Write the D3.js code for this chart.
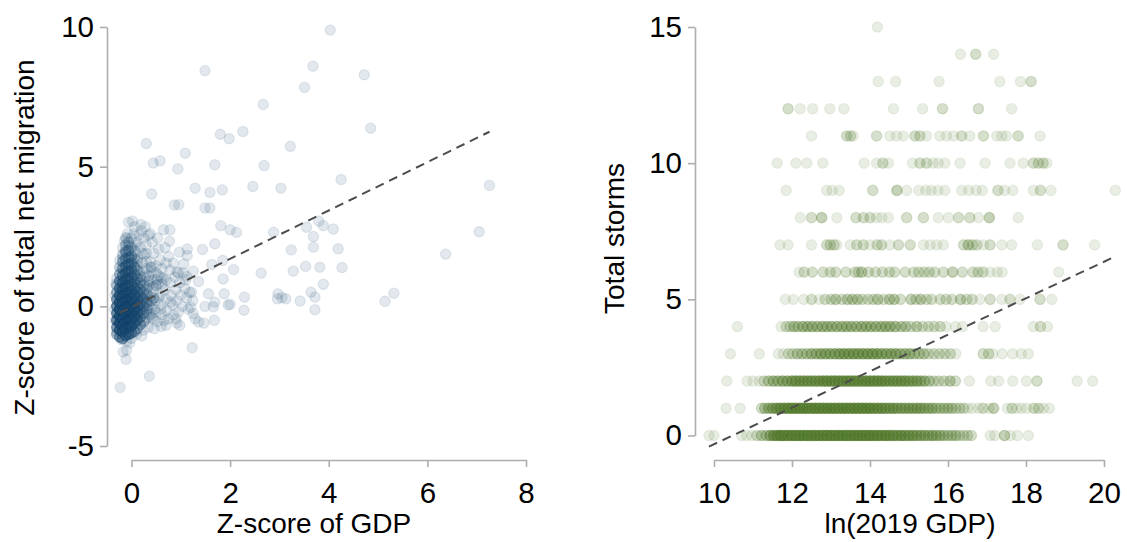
<!DOCTYPE html>
<html>
<head>
<meta charset="utf-8">
<script src="https://cdn.jsdelivr.net/npm/d3@7"></script>
<style>
  html, body { margin: 0; padding: 0; background: #ffffff; }
  svg text { font-family: "Liberation Sans", Arial, Helvetica, sans-serif; fill: #000; }
</style>
</head>
<body>
<svg id="chart" width="1127" height="542"></svg>
<script>
// ---------- Left panel: GDP z-score vs. net migration z-score ----------
const gdpTicks = [0, 2, 4, 6, 8];
const migrationTicks = [-5, 0, 5, 10];

// scattered observations [gdp z, migration z]
const migrationScatter = [
  [4.03, 9.89], [1.49, 8.44], [3.68, 8.6], [4.72, 8.29], [3.51, 7.84], [2.67, 7.23],
  [4.85, 6.38], [1.8, 6.16], [1.98, 6.0], [2.26, 6.26], [0.3, 5.83], [3.22, 5.73],
  [4.25, 4.54], [7.26, 4.33], [7.05, 2.67], [6.37, 1.87], [4.19, 2.06], [4.27, 1.39],
  [5.14, 0.18], [5.32, 0.47],
  [-0.06, 3.01], [0.02, 3.05], [0.19, 2.93], [0.65, 2.74], [0.78, 2.74], [0.38, 2.6],
  [0.53, 2.45], [0.77, 2.33], [1.44, 2.04], [1.69, 2.24], [1.13, 2.05], [0.97, 1.94],
  [1.13, 1.82], [1.06, 1.52], [0.75, 1.79], [1.85, 1.64], [1.25, 1.26], [1.63, 1.5],
  [2.07, 1.32], [1.86, 0.98], [2.63, 1.19], [1.36, 0.89], [1.12, 1.07], [0.92, 1.23],
  [1.22, 0.51], [1.24, 0.21], [1.56, 0.45], [1.69, 0.15], [1.66, -0.02], [2.0, 0.07],
  [1.96, 0.05], [2.29, 0.33], [2.28, -0.14], [1.88, 0.45], [1.49, 0.0], [1.2, -0.04],
  [1.25, -0.26], [1.29, -0.44], [1.36, -0.56], [1.47, -0.6], [1.68, -0.5], [0.92, -0.6],
  [0.98, -0.68], [0.7, -0.68], [0.21, -1.06], [-0.04, -1.31], [-0.1, -1.57], [-0.17, -1.63],
  [-0.11, -1.9], [1.23, -1.48], [0.36, -2.5], [-0.23, -2.9], [0.41, 4.02], [0.87, 3.63],
  [0.96, 3.64], [1.49, 3.52], [1.59, 3.52], [0.44, 5.13], [0.58, 5.21], [0.94, 4.92],
  [1.29, 4.23], [1.59, 4.08], [1.84, 4.17], [1.69, 5.07], [2.69, 5.04], [2.46, 4.29],
  [3.03, 4.23], [1.09, 5.48], [1.81, 2.89], [2.0, 2.74], [2.13, 2.65], [2.88, 2.65],
  [3.55, 2.83], [3.8, 3.05], [3.89, 2.89], [4.09, 2.77], [3.69, 2.5], [3.69, 2.12],
  [3.24, 2.02], [3.82, 1.4], [3.53, 1.43], [3.28, 1.26], [3.89, 0.79], [2.97, 0.45],
  [3.05, 0.31], [2.96, 0.27], [3.13, 0.27], [3.42, 0.19], [3.64, 0.51], [3.72, 0.33],
  [3.72, -0.12],
  // halo around the main group
  [-0.18, 1.7], [-0.12, 2.0], [-0.05, 2.2], [0.0, 2.45], [0.05, 2.6], [0.1, 2.3],
  [0.15, 2.55], [0.2, 2.7], [0.25, 2.45], [0.3, 2.2], [0.08, 1.95], [0.18, 2.1],
  [0.26, 1.85], [0.35, 2.55], [0.42, 2.3], [0.12, 1.7], [0.22, 1.55], [0.3, 1.35],
  [0.38, 1.6], [0.45, 1.9], [0.5, 1.45], [0.02, 1.65], [-0.14, 2.35], [-0.08, 2.6],
  [0.06, 2.85], [0.28, 2.85], [0.16, 1.25], [0.1, 1.45], [-0.02, 1.35], [0.35, 1.1],
  [0.42, 0.95], [0.5, 1.2], [0.58, 1.65], [0.62, 1.35], [0.55, 2.05], [0.68, 2.1],
  [0.2, 0.95], [0.28, 1.05],
  [0.25, 0.45], [0.3, 0.15], [0.3, -0.2], [0.28, -0.5], [0.35, 0.75], [0.38, 0.35],
  [0.4, -0.05], [0.42, -0.4], [0.45, 0.55], [0.48, 0.2], [0.5, -0.2], [0.52, -0.55],
  [0.55, 0.8], [0.58, 0.4], [0.6, 0.05], [0.62, -0.3], [0.65, 1.0], [0.68, 0.6],
  [0.7, 0.25], [0.72, -0.15], [0.75, -0.45], [0.78, 0.85], [0.8, 0.4], [0.83, 0.05],
  [0.85, -0.3], [0.88, 1.05], [0.9, 0.6], [0.92, 0.2], [0.95, -0.2], [0.98, 0.85],
  [1.0, 0.4], [1.03, 0.0], [1.05, 1.2], [1.08, 0.65], [1.12, 0.3], [1.15, -0.1],
  [0.24, -0.85], [0.34, -0.75], [0.46, -0.8], [0.6, -0.72], [0.4, 1.25], [0.78, 1.3],
  [0.85, 1.55], [0.95, 1.2], [0.7, 1.55], [0.62, 0.8], [0.52, 0.95], [0.3, 0.6],
  [0.36, 0.05], [0.22, 0.3], [0.18, 1.05], [1.1, 0.95], [1.18, 0.5], [0.9, -0.45],
  [0.66, -0.5],
  [-0.2, -1.2], [-0.1, -1.25], [0.0, -1.15], [0.1, -1.0], [-0.33, -0.5], [-0.34, -0.1],
  [-0.33, 0.4], [-0.32, 0.8], [-0.3, -0.9]
];

// main group, where many observations coincide: [gdp z, migration z, count]
const migrationCluster = [
  [-0.3, -1.0, 3], [-0.3, -0.75, 5], [-0.3, -0.5, 6], [-0.3, -0.25, 6], [-0.3, 0.0, 6],
  [-0.3, 0.25, 5], [-0.3, 0.5, 3], [-0.3, 0.75, 2], [-0.3, 1.0, 1],
  [-0.24, -1.1, 4], [-0.24, -0.85, 8], [-0.24, -0.6, 11], [-0.24, -0.35, 11], [-0.24, -0.1, 11],
  [-0.24, 0.15, 10], [-0.24, 0.4, 8], [-0.24, 0.65, 6], [-0.24, 0.9, 5], [-0.24, 1.15, 3],
  [-0.24, 1.4, 2], [-0.24, 1.65, 1],
  [-0.18, -1.15, 4], [-0.18, -0.9, 9], [-0.18, -0.65, 12], [-0.18, -0.4, 12], [-0.18, -0.15, 12],
  [-0.18, 0.1, 11], [-0.18, 0.35, 9], [-0.18, 0.6, 8], [-0.18, 0.85, 6], [-0.18, 1.1, 5],
  [-0.18, 1.35, 4], [-0.18, 1.6, 3], [-0.18, 1.85, 2], [-0.18, 2.1, 1],
  [-0.12, -1.05, 6], [-0.12, -0.8, 12], [-0.12, -0.55, 12], [-0.12, -0.3, 12], [-0.12, -0.05, 12],
  [-0.12, 0.2, 11], [-0.12, 0.45, 9], [-0.12, 0.7, 8], [-0.12, 0.95, 6], [-0.12, 1.2, 5],
  [-0.12, 1.45, 4], [-0.12, 1.7, 3], [-0.12, 1.95, 3], [-0.12, 2.2, 2], [-0.12, 2.45, 1],
  [-0.06, -1.0, 6], [-0.06, -0.75, 11], [-0.06, -0.5, 12], [-0.06, -0.25, 12], [-0.06, 0.0, 11],
  [-0.06, 0.25, 9], [-0.06, 0.5, 8], [-0.06, 0.75, 6], [-0.06, 1.0, 6], [-0.06, 1.25, 5],
  [-0.06, 1.5, 4], [-0.06, 1.75, 3], [-0.06, 2.0, 3], [-0.06, 2.3, 2],
  [0.0, -0.95, 5], [0.0, -0.7, 8], [0.0, -0.45, 9], [0.0, -0.2, 9], [0.0, 0.05, 9],
  [0.0, 0.3, 8], [0.0, 0.55, 6], [0.0, 0.8, 5], [0.0, 1.05, 4], [0.0, 1.3, 3],
  [0.0, 1.55, 3], [0.0, 1.8, 3], [0.0, 2.1, 2],
  [0.06, -0.9, 3], [0.06, -0.6, 6], [0.06, -0.35, 8], [0.06, -0.1, 8], [0.06, 0.15, 6],
  [0.06, 0.4, 6], [0.06, 0.65, 5], [0.06, 0.9, 3], [0.06, 1.15, 3], [0.06, 1.4, 3],
  [0.06, 1.7, 2], [0.06, 2.0, 1],
  [0.12, -0.8, 3], [0.12, -0.5, 5], [0.12, -0.25, 6], [0.12, 0.0, 6], [0.12, 0.25, 5],
  [0.12, 0.5, 4], [0.12, 0.75, 3], [0.12, 1.0, 3], [0.12, 1.3, 2], [0.12, 1.6, 1],
  [0.18, -0.65, 3], [0.18, -0.4, 3], [0.18, -0.15, 4], [0.18, 0.1, 4], [0.18, 0.35, 3],
  [0.18, 0.6, 3], [0.18, 0.85, 2], [0.18, 1.1, 1],
  [0.25, -0.55, 2], [0.25, -0.25, 3], [0.25, 0.0, 3], [0.25, 0.25, 3], [0.25, 0.5, 2], [0.25, 0.75, 2],
  [0.32, -0.4, 1], [0.32, -0.1, 2], [0.32, 0.15, 2], [0.32, 0.4, 2], [0.32, 0.65, 1],
  [0.4, -0.25, 1], [0.4, 0.2, 2], [0.44, 0.7, 1], [0.47, -0.1, 1], [0.55, 0.3, 1], [0.6, 1.05, 1],
  [0.08, 2.2, 1], [0.22, 1.9, 1], [-0.1, 2.45, 1], [0.3, 1.6, 1],
  [0.35, 0.9, 2], [0.45, 0.3, 2], [0.5, 0.75, 2], [0.4, 1.4, 2], [0.55, 1.1, 1], [0.3, 1.9, 1],
  [0.45, -0.45, 1], [0.38, -0.3, 1], [0.6, -0.1, 1], [0.26, 1.25, 1], [0.7, 0.95, 1], [0.8, 0.15, 1]
];

// least-squares fit of migration z on GDP z
const migrationFit = { intercept: -0.03, slope: 0.865 };

// ---------- Right panel: ln(2019 GDP) vs. total storms ----------
const lnGdpTicks = [10, 12, 14, 16, 18, 20];
const stormTicks = [0, 5, 10, 15];

// for each storm count: [ln GDP, number of regions at that value]
const stormRows = [
  [0, [[9.87,1],[10.0,1],[10.71,1],[10.84,1],[10.97,1],[11.1,2],[11.22,3],[11.34,3],[11.44,5],[11.53,6],
       [11.62,7],[11.71,8],[11.8,8],[11.9,8],[12.0,9],[12.1,8],[12.2,9],[12.3,8],[12.4,9],[12.5,8],
       [12.6,9],[12.7,8],[12.8,9],[12.9,8],[13.0,9],[13.1,8],[13.2,9],[13.3,8],[13.4,9],[13.5,8],
       [13.6,9],[13.7,8],[13.8,9],[13.9,8],[14.0,9],[14.1,8],[14.2,8],[14.3,7],[14.4,8],[14.5,7],
       [14.6,7],[14.7,6],[14.8,7],[14.9,6],[15.0,6],[15.1,6],[15.2,5],[15.3,5],[15.4,5],[15.5,4],
       [15.6,5],[15.7,4],[15.8,4],[15.9,3],[16.0,3],[16.1,3],[16.2,3],[16.3,2],[16.4,2],[16.5,2],
       [16.6,2],[17.08,1],[17.2,1],[17.45,3],[17.6,1],[17.78,1],[18.06,1]]],
  [1, [[10.31,1],[10.67,1],[11.22,2],[11.3,3],[11.4,4],[11.5,5],[11.6,6],[11.7,7],[11.8,7],[11.9,8],
       [12.0,8],[12.1,8],[12.2,8],[12.3,8],[12.4,8],[12.5,8],[12.6,8],[12.7,8],[12.8,8],[12.9,8],
       [13.0,8],[13.1,8],[13.2,8],[13.3,8],[13.4,8],[13.5,8],[13.6,8],[13.7,8],[13.8,8],[13.9,8],
       [14.0,8],[14.1,7],[14.2,7],[14.3,7],[14.4,6],[14.5,6],[14.6,6],[14.7,5],[14.8,5],[14.9,5],
       [15.0,5],[15.1,5],[15.2,5],[15.3,5],[15.4,4],[15.5,4],[15.6,4],[15.7,3],[15.8,3],[15.9,3],
       [16.0,3],[16.1,3],[16.2,2],[16.3,2],[16.4,2],[16.5,1],[16.62,1],[16.78,1],[16.9,2],[17.05,1],
       [17.17,3],[17.52,1],[17.64,2],[17.76,1],[17.88,1],[18.02,1],[18.2,2],[18.32,2],[18.45,1],[18.6,1]]],
  [2, [[10.33,1],[10.85,1],[11.0,1],[11.16,1],[11.28,2],[11.4,3],[11.52,4],[11.64,4],[11.76,5],[11.88,5],
       [12.0,6],[12.1,6],[12.2,6],[12.3,6],[12.4,6],[12.5,6],[12.6,6],[12.7,6],[12.8,7],[12.9,7],
       [13.0,7],[13.1,7],[13.2,7],[13.3,7],[13.4,7],[13.5,7],[13.6,7],[13.7,7],[13.8,7],[13.9,7],
       [14.0,7],[14.1,7],[14.2,7],[14.3,7],[14.4,6],[14.5,6],[14.6,6],[14.7,6],[14.8,6],[14.9,6],
       [15.0,5],[15.1,5],[15.2,5],[15.3,4],[15.4,4],[15.52,3],[15.64,2],[15.76,2],[15.9,2],[16.05,3],
       [16.19,2],[16.55,1],[17.1,1],[17.3,1],[17.66,1],[18.01,1],[18.28,2],[19.31,1],[19.71,1]]],
  [3, [[10.42,1],[11.16,1],[11.65,1],[11.78,1],[11.91,2],[12.02,2],[12.14,3],[12.26,3],[12.38,3],[12.5,4],
       [12.62,4],[12.74,5],[12.86,5],[12.98,5],[13.1,5],[13.22,6],[13.34,6],[13.46,6],[13.58,6],[13.7,6],
       [13.82,6],[13.94,6],[14.06,6],[14.18,6],[14.3,5],[14.42,5],[14.54,5],[14.66,5],[14.78,4],[14.9,4],
       [15.02,4],[15.14,3],[15.26,3],[15.38,3],[15.5,2],[15.64,2],[15.78,2],[15.92,2],[16.06,2],[16.2,1],
       [16.9,2],[17.04,2],[17.15,1],[17.39,1],[17.66,1],[17.88,1],[18.06,1]]],
  [4, [[10.6,1],[11.72,1],[11.85,2],[11.95,2],[12.05,3],[12.15,3],[12.28,4],[12.4,4],[12.52,4],[12.65,4],
       [12.78,4],[12.9,4],[13.02,4],[13.15,4],[13.28,4],[13.4,4],[13.52,4],[13.65,4],[13.78,4],[13.9,4],
       [14.02,4],[14.15,4],[14.28,4],[14.4,4],[14.52,4],[14.65,4],[14.8,3],[14.92,3],[15.05,2],[15.2,3],
       [15.35,2],[15.5,2],[15.65,2],[15.8,2],[15.95,1],[16.19,1],[16.37,1],[16.9,1],[17.21,1],[18.19,1],
       [18.37,2],[18.55,1]]],
  [5, [[11.83,1],[12.03,1],[12.3,1],[12.5,2],[12.7,1],[12.85,2],[13.0,2],[13.12,3],[13.28,2],[13.42,3],
       [13.55,3],[13.68,3],[13.8,2],[13.95,2],[14.08,2],[14.2,3],[14.35,2],[14.5,3],[14.62,3],[14.78,2],
       [15.05,3],[15.18,2],[15.3,3],[15.45,2],[15.58,2],[15.8,2],[15.95,2],[16.1,2],[16.32,3],[16.48,2],
       [16.62,2],[16.82,1],[17.08,2],[17.38,1],[17.59,2],[17.85,1],[18.36,2],[18.66,1]]],
  [6, [[12.18,1],[12.31,2],[12.52,2],[12.8,2],[12.98,2],[13.12,2],[13.38,2],[13.61,2],[13.7,2],[13.79,3],
       [13.96,2],[14.14,2],[14.32,2],[14.5,2],[14.63,2],[14.9,2],[15.12,2],[15.25,2],[15.39,2],[15.52,2],
       [15.66,2],[15.88,2],[16.12,3],[16.37,2],[16.64,2],[16.77,2],[16.9,2],[17.08,1],[17.26,1],[17.39,1],
       [18.84,1]]],
  [7, [[11.69,1],[11.9,1],[12.5,1],[12.89,2],[12.98,2],[13.08,2],[13.15,1],[13.49,1],[13.66,2],[13.83,2],
       [14.0,1],[14.18,2],[14.3,2],[14.51,1],[14.73,2],[15.03,2],[15.37,1],[15.54,1],[15.71,1],[15.88,1],
       [16.4,2],[16.52,3],[16.63,2],[16.74,2],[16.91,1],[17.08,2],[17.38,1],[17.63,1],[18.29,1],[18.95,2],
       [19.76,1]]],
  [8, [[12.21,1],[12.5,2],[12.76,3],[13.15,1],[13.64,2],[13.83,2],[14.0,2],[14.17,1],[14.3,1],[14.47,1],
       [14.94,2],[15.37,2],[15.75,1],[16.01,1],[16.27,2],[16.56,2],[16.78,1],[17.06,3],[17.8,1]]],
  [9, [[11.85,1],[12.89,1],[13.03,1],[13.21,1],[14.07,2],[14.69,3],[14.94,1],[15.25,1],[15.43,1],[15.57,1],
       [15.74,1],[15.92,1],[16.35,1],[16.53,1],[16.72,1],[16.88,1],[17.28,2],[17.45,1],[17.66,1],[18.19,1],
       [18.37,2],[18.64,1],[20.29,1]]],
  [10, [[11.62,1],[12.1,1],[12.38,1],[12.79,1],[13.85,1],[14.17,1],[14.33,2],[14.47,1],[15.09,1],[15.28,2],
        [15.45,2],[15.62,1],[15.75,1],[15.92,1],[16.31,1],[16.95,1],[17.59,1],[17.93,1],[18.19,2],[18.32,2],
        [18.44,2],[18.53,1]]],
  [11, [[12.5,1],[13.4,2],[13.5,2],[13.57,1],[14.17,2],[14.51,1],[14.68,1],[14.85,1],[15.15,2],[15.28,2],
        [15.45,1],[15.79,1],[15.96,1],[16.14,1],[16.35,2],[16.56,1],[16.91,2],[17.25,1],[17.38,1],[17.5,1],
        [17.8,2],[18.36,1]]],
  [12, [[11.9,2],[12.21,1],[12.53,1],[12.97,1],[13.33,1],[14.6,1],[15.35,1],[15.86,2],[16.78,2],[17.63,1]]],
  [13, [[14.21,1],[14.66,1],[15.77,1],[17.33,1],[17.86,1],[18.13,2]]],
  [14, [[16.32,1],[16.71,2],[17.17,1]]],
  [15, [[14.19,1]]]
];

// least-squares fit of storms on ln GDP
const stormFit = { intercept: -7.02, slope: 0.67 };

// ---------- drawing ----------
const svg = d3.select("#chart");
const AXIS_COLOR = "#adadad";
const TICK_FONT = 29.5;
const TITLE_FONT = 28;
const fmt = d => String(d);

function styleAxis(g) {
  g.selectAll(".domain").attr("stroke", AXIS_COLOR).attr("stroke-width", 1.6);
  g.selectAll(".tick line").attr("stroke", AXIS_COLOR).attr("stroke-width", 1.6);
  g.selectAll(".tick text").attr("font-size", TICK_FONT).attr("fill", "#000")
    .attr("font-family", "Liberation Sans, Arial, sans-serif");
}

function drawPoints(g, pts, x, y, color) {
  g.selectAll("circle").data(pts).join("circle")
    .attr("cx", d => x(d[0]))
    .attr("cy", d => y(d[1]))
    .attr("r", 5.2)
    .attr("fill", color)
    .attr("fill-opacity", 0.13)
    .attr("stroke", color)
    .attr("stroke-opacity", 0.1)
    .attr("stroke-width", 1.2);
}

function drawFit(g, fit, xs, x, y) {
  const [x0, x1] = d3.extent(xs);
  const line = d3.line().x(d => x(d)).y(d => y(fit.intercept + fit.slope * d));
  g.append("path")
    .attr("d", line([x0, x1]))
    .attr("fill", "none")
    .attr("stroke", "#4d4d4d")
    .attr("stroke-width", 2)
    .attr("stroke-dasharray", "9,6");
}

// left panel
{
  const x = d3.scaleLinear().domain([0, 8]).range([131.5, 526]);
  const y = d3.scaleLinear().domain([-5, 10]).range([446, 27]);
  const pts = migrationScatter.concat(
    migrationCluster.flatMap(([gx, my, n]) => d3.range(n).map(() => [gx, my]))
  );
  const g = svg.append("g");
  drawPoints(g.append("g"), pts, x, y, "#1f4b75");
  drawFit(g, migrationFit, pts.map(d => d[0]).filter(v => v > -0.25), x, y);

  g.append("g").attr("transform", "translate(0,460)")
    .call(d3.axisBottom(x).tickValues(gdpTicks).tickFormat(fmt).tickSize(7).tickPadding(15).tickSizeOuter(0))
    .call(styleAxis);
  g.append("g").attr("transform", "translate(107,0)")
    .call(d3.axisLeft(y).tickValues(migrationTicks).tickFormat(fmt).tickSize(7).tickPadding(6).tickSizeOuter(0))
    .call(styleAxis);

  g.append("text").attr("x", 314).attr("y", 533)
    .attr("text-anchor", "middle").attr("font-size", TITLE_FONT)
    .text("Z-score of GDP");
  g.append("text").attr("transform", "translate(34,237.5) rotate(-90)")
    .attr("text-anchor", "middle").attr("font-size", TITLE_FONT)
    .text("Z-score of total net migration");
}

// right panel
{
  const x = d3.scaleLinear().domain([10, 20]).range([714, 1104]);
  const y = d3.scaleLinear().domain([0, 15]).range([435.5, 27]);
  const pts = stormRows.flatMap(([storms, row]) =>
    row.flatMap(([lg, n]) => d3.range(n).map(() => [lg, storms]))
  );
  const g = svg.append("g");
  drawPoints(g.append("g"), pts, x, y, "#567b30");
  drawFit(g, stormFit, pts.map(d => d[0]), x, y);

  g.append("g").attr("transform", "translate(0,460)")
    .call(d3.axisBottom(x).tickValues(lnGdpTicks).tickFormat(fmt).tickSize(7).tickPadding(15).tickSizeOuter(0))
    .call(styleAxis);
  g.append("g").attr("transform", "translate(695,0)")
    .call(d3.axisLeft(y).tickValues(stormTicks).tickFormat(fmt).tickSize(7).tickPadding(6).tickSizeOuter(0))
    .call(styleAxis);

  g.append("text").attr("x", 910).attr("y", 533)
    .attr("text-anchor", "middle").attr("font-size", TITLE_FONT)
    .text("ln(2019 GDP)");
  g.append("text").attr("transform", "translate(624,238.5) rotate(-90)")
    .attr("text-anchor", "middle").attr("font-size", TITLE_FONT)
    .text("Total storms");
}
</script>
</body>
</html>
